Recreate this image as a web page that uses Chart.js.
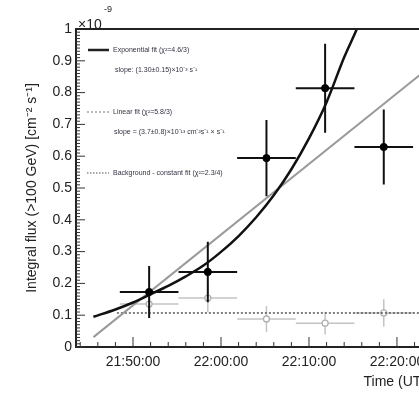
<!DOCTYPE html>
<html lang="en">
  <head>
    <meta charset="UTF-8" />
    <script src="https://cdn.jsdelivr.net/npm/chart.js@4"></script>
    <title>Flare light curve</title>
    <style>
      html, body { margin: 0; padding: 0; overflow: hidden; background: #fff; }
      #wrap { width: 445px; height: 395px; }
    </style>
  </head>
  <body>
    <div id="wrap"><canvas id="chart"></canvas></div>
    <script>
      // time bins (UT) and fluxes in units of 1e-9 cm^-2 s^-1
      const binStart = ["21:48:30", "21:55:10", "22:01:50", "22:08:30", "22:15:10"];
      const binEnd = ["21:55:10", "22:01:50", "22:08:30", "22:15:10", "22:21:50"];
      const binCenter = ["21:51:50", "21:58:30", "22:05:10", "22:11:50", "22:18:30"];

      const signalFlux = [0.173, 0.236, 0.594, 0.814, 0.629];
      const signalErr = [0.082, 0.095, 0.12, 0.14, 0.118];

      const bgFlux = [0.135, 0.154, 0.088, 0.075, 0.107];
      const bgErr = [0.04, 0.045, 0.041, 0.036, 0.043];

      // fit curves
      const expFitTimes = ["21:45:30", "21:48:00", "21:50:00", "21:52:00", "21:54:00", "21:56:00", "21:58:00", "22:00:00",
        "22:02:00", "22:04:00", "22:06:00", "22:08:00", "22:10:00", "22:12:00", "22:14:00", "22:15:30", "22:16:00"];
      const expFitFlux = [0.095, 0.118, 0.14, 0.166, 0.192, 0.222, 0.256, 0.299,
        0.349, 0.408, 0.477, 0.559, 0.656, 0.77, 0.911, 1.004, 1.04];
      const linFitTimes = ["21:45:30", "22:23:20"];
      const linFitFlux = [0.031, 0.872];
      const bgFitTimes = ["21:48:10", "22:23:20"];
      const bgFitFlux = [0.107, 0.107];

      const yTicks = [0, 0.1, 0.2, 0.3, 0.4, 0.5, 0.6, 0.7, 0.8, 0.9, 1];
      const xTickTimes = ["21:50:00", "22:00:00", "22:10:00", "22:20:00"];

      // minutes after 21:00
      function toMin(s) {
        const p = s.split(":").map(Number);
        return (p[0] - 21) * 60 + p[1] + p[2] / 60;
      }
      function fmt(v) {
        const h = 21 + Math.floor(v / 60);
        const m = Math.round(v % 60);
        return h + ":" + String(m).padStart(2, "0") + ":00";
      }

      function errorSegments(vals, errs) {
        const pts = [];
        vals.forEach((v, i) => {
          const c = toMin(binCenter[i]);
          pts.push({ x: toMin(binStart[i]), y: v }, { x: toMin(binEnd[i]), y: v }, { x: c, y: null });
          pts.push({ x: c, y: v - errs[i] }, { x: c, y: v + errs[i] }, { x: c, y: null });
        });
        return pts;
      }
      const pairs = (ts, vs) => ts.map((t, i) => ({ x: toMin(t), y: vs[i] }));

      const xMin = 43.52, xMax = 83.3;

      const frame = {
        id: "frame",
        afterDraw(chart) {
          const { ctx, chartArea: a, scales } = chart;
          const xs = scales.x, ys = scales.y;
          ctx.save();
          ctx.strokeStyle = "#333";
          ctx.lineWidth = 1;
          ctx.beginPath();
          for (let k = 0; k <= 100; k++) {
            const y = ys.getPixelForValue(k / 100);
            const len = k % 10 === 0 ? 9 : 4;
            ctx.moveTo(a.left, y); ctx.lineTo(a.left + len, y);
          }
          for (let m = 44; m <= 83; m += 2) {
            const x = xs.getPixelForValue(m);
            const len = m % 10 === 0 ? 10 : 5;
            ctx.moveTo(x, a.bottom); ctx.lineTo(x, a.bottom - len);
          }
          ctx.stroke();
          ctx.strokeStyle = "#222";
          ctx.lineWidth = 2;
          ctx.beginPath();
          ctx.moveTo(a.left - 1, a.top); ctx.lineTo(a.right, a.top);
          ctx.stroke();

          // exponent label
          ctx.fillStyle = "#222";
          ctx.textBaseline = "alphabetic";
          ctx.font = "14px 'Liberation Sans', Arial, sans-serif";
          ctx.fillText("×10", 78, 29);
          ctx.font = "9px 'Liberation Sans', Arial, sans-serif";
          ctx.fillText("-9", 104, 12);

          // legend
          ctx.font = "7px 'Liberation Sans', Arial, sans-serif";
          ctx.textBaseline = "middle";
          ctx.fillStyle = "#334";
          ctx.lineWidth = 2.5; ctx.strokeStyle = "#222";
          ctx.beginPath(); ctx.moveTo(88, 50); ctx.lineTo(109, 50); ctx.stroke();
          ctx.fillText("Exponential fit (χ²=4.6/3)", 113, 50);
          ctx.fillText("slope: (1.30±0.15)×10⁻³ s⁻¹", 115, 70);
          ctx.lineWidth = 1.2; ctx.strokeStyle = "#777"; ctx.setLineDash([2, 2]);
          ctx.beginPath(); ctx.moveTo(87, 112); ctx.lineTo(109, 112); ctx.stroke();
          ctx.fillText("Linear fit (χ²=5.8/3)", 113, 112);
          ctx.fillText("slope = (3.7±0.8)×10⁻¹³ cm⁻²s⁻¹ × s⁻¹", 114, 132);
          ctx.strokeStyle = "#555"; ctx.setLineDash([1.5, 1.5]);
          ctx.beginPath(); ctx.moveTo(87, 173); ctx.lineTo(109, 173); ctx.stroke();
          ctx.fillText("Background - constant fit (χ²=2.3/4)", 113, 173);
          ctx.restore();
        },
      };

      new Chart(document.getElementById("chart"), {
        type: "scatter",
        data: {
          datasets: [
            {
              data: pairs(binCenter, signalFlux),
              pointRadius: 3.6, pointBackgroundColor: "#000", pointBorderColor: "#000",
              showLine: false, order: 0,
            },
            {
              data: errorSegments(signalFlux, signalErr),
              showLine: true, spanGaps: false, pointRadius: 0,
              borderColor: "#111", borderWidth: 2, order: 1,
            },
            {
              data: pairs(expFitTimes, expFitFlux),
              showLine: true, pointRadius: 0, borderColor: "#111", borderWidth: 2.5,
              cubicInterpolationMode: "monotone", order: 2,
            },
            {
              data: pairs(linFitTimes, linFitFlux),
              showLine: true, pointRadius: 0, borderColor: "#9a9a9a", borderWidth: 2, order: 3,
            },
            {
              data: pairs(bgFitTimes, bgFitFlux),
              showLine: true, pointRadius: 0, borderColor: "#555", borderWidth: 1.5,
              borderDash: [2, 2], order: 4,
            },
            {
              data: pairs(binCenter, bgFlux),
              pointRadius: 3, pointBackgroundColor: "#fff", pointBorderColor: "#b0b0b0",
              pointBorderWidth: 1.3, showLine: false, order: 5,
            },
            {
              data: errorSegments(bgFlux, bgErr),
              showLine: true, spanGaps: false, pointRadius: 0,
              borderColor: "#c4c4c4", borderWidth: 1.5, order: 6,
            },
          ],
        },
        options: {
          responsive: true,
          maintainAspectRatio: false,
          animation: false,
          layout: { padding: { left: 0, top: 29, right: 19, bottom: 0 } },
          plugins: { legend: { display: false }, tooltip: { enabled: false } },
          scales: {
            x: {
              type: "linear", min: xMin, max: xMax,
              afterFit(s) { s.height = 48; },
              afterBuildTicks(s) { s.ticks = xTickTimes.map((t) => ({ value: toMin(t) })); },
              grid: { drawOnChartArea: false, drawTicks: false },
              border: { display: true, color: "#222", width: 2 },
              ticks: {
                autoSkip: false, maxRotation: 0, padding: 7, color: "#222",
                font: { family: "'Liberation Sans', Arial, sans-serif", size: 14 },
                callback: (v) => fmt(v),
              },
              title: {
                display: true, text: "Time (UT)", align: "end", color: "#222",
                font: { family: "'Liberation Sans', Arial, sans-serif", size: 14 },
                padding: { top: 0, bottom: 4 },
              },
            },
            y: {
              min: 0, max: 1,
              afterFit(s) { s.width = 76; },
              afterBuildTicks(s) { s.ticks = yTicks.map((v) => ({ value: v })); },
              grid: { drawOnChartArea: false, drawTicks: false },
              border: { display: true, color: "#222", width: 2 },
              ticks: {
                padding: 4, color: "#222",
                font: { family: "'Liberation Sans', Arial, sans-serif", size: 14 },
                callback: (v) => (v === 0 ? "0" : v === 1 ? "1" : v.toFixed(1)),
              },
              title: {
                display: true, text: "Integral flux (>100 GeV) [cm⁻² s⁻¹]", align: "center", color: "#222",
                font: { family: "'Liberation Sans', Arial, sans-serif", size: 14 },
                padding: { top: 24, bottom: 0 },
              },
            },
          },
        },
        plugins: [frame],
      });
    </script>
  </body>
</html>
